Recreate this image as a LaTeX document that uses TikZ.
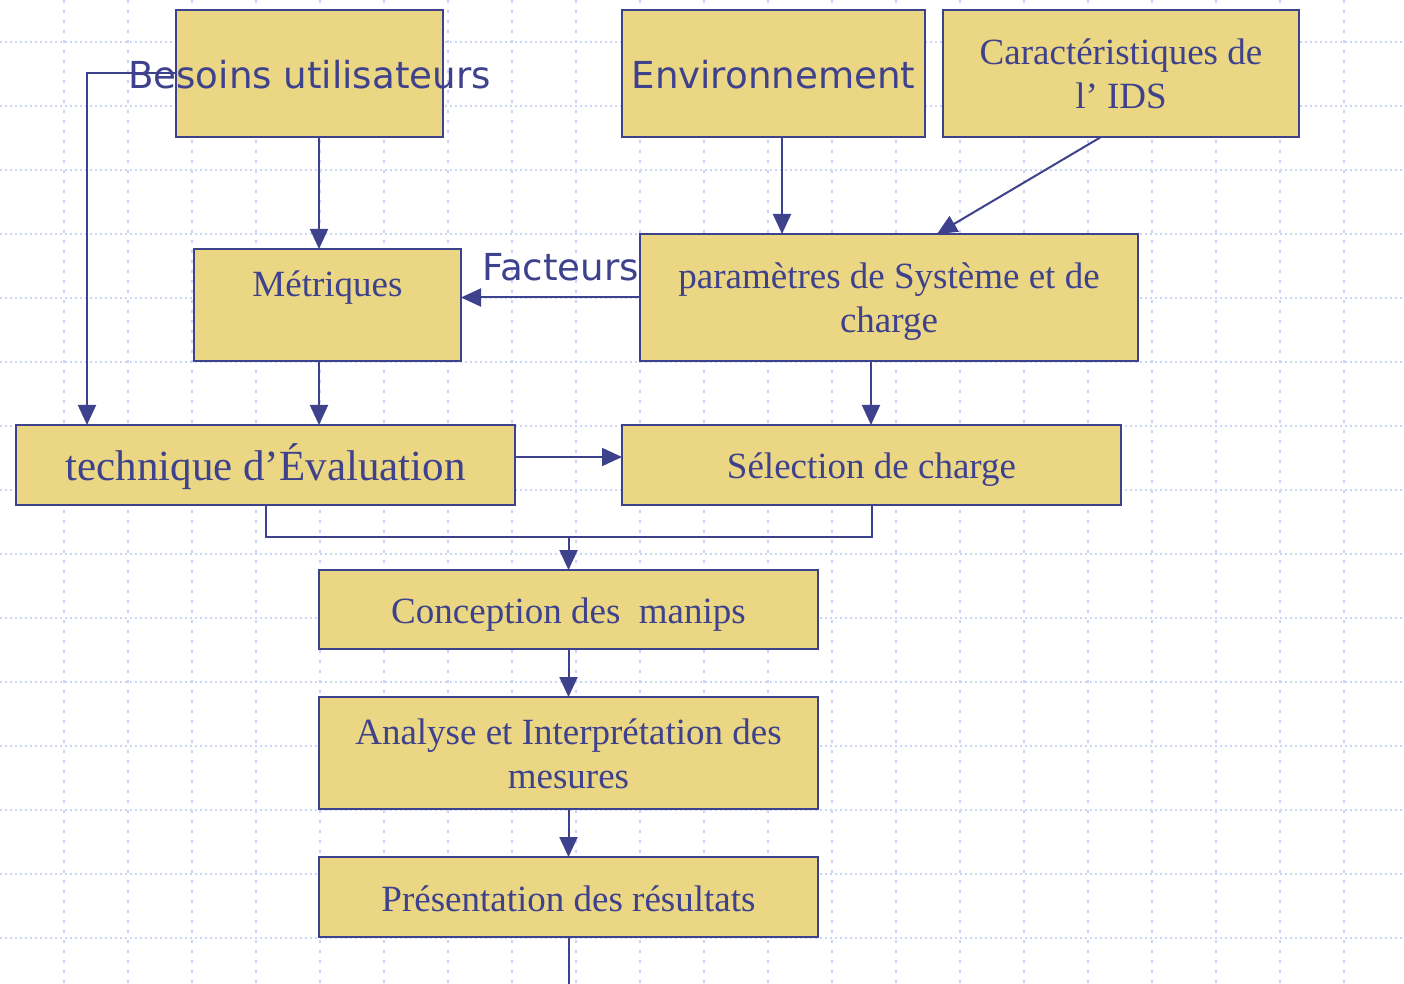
\documentclass[tikz,border=0pt]{standalone}
\usepackage{fontspec}
\setmainfont{Liberation Serif}
\newfontfamily\sansbox{DejaVu Sans}
\usepackage{tikz}
\usetikzlibrary{arrows.meta}
\definecolor{BoxFill}{HTML}{EAD683}
\definecolor{BoxLine}{HTML}{3E418C}
\definecolor{GridDot}{HTML}{C9D4F6}
\newcommand{\twolines}[1]{\raisebox{-2.2pt}[\height][\depth]{\begin{tabular}{@{}c@{}}#1\end{tabular}}}

\begin{document}
\begin{tikzpicture}[x=0.5pt,y=-0.5pt,
    stepbox/.style={draw=BoxLine, fill=BoxFill, line width=1pt, text=BoxLine, outer sep=0pt,
      inner sep=0pt, font=\fontsize{18.5}{22}\selectfont},
    oneline/.style={text height=16pt, text depth=2pt},
    sanstext/.style={font=\sansbox\fontsize{18.6}{22}\selectfont},
    flow/.style={draw=BoxLine, line width=1pt, -{Triangle[length=10pt,width=9pt]}},
    link/.style={draw=BoxLine, line width=1pt}]
  \useasboundingbox (0,0) rectangle (1404,984);
  \foreach \gy in {42,106,...,938}
    \draw[GridDot, line width=0.75pt, dash pattern=on 1pt off 1.5pt] (0,\gy) -- (1404,\gy);
  \foreach \gx in {64,128,...,1344}
    \draw[GridDot, line width=0.75pt, dash pattern=on 1.5pt off 3.5pt] (\gx,0) -- (\gx,984);

  \node[stepbox, sanstext, text height=15.5pt, text depth=0pt, minimum width=133.5pt, minimum height=63.5pt] (bes) at (309.5,73.5) {\makebox[0pt]{Besoins utilisateurs}};
  \node[stepbox, sanstext, text height=15.5pt, text depth=0pt, minimum width=151.5pt, minimum height=63.5pt] (env) at (773.5,73.5) {Environnement};
  \node[stepbox, minimum width=178pt, minimum height=63.5pt] (car) at (1121,73.5) {\twolines{Caractéristiques de\\l’ IDS}};
  \node[stepbox, minimum width=133.5pt, minimum height=56pt] (met) at (327.5,305) {\twolines{Métriques\\~}};
  \node[stepbox, minimum width=249pt, minimum height=63.5pt] (par) at (889,297.5) {\twolines{paramètres de Système et de\\charge}};
  \node[stepbox, font=\fontsize{21.5}{26}\selectfont, text height=18.5pt, text depth=3pt, minimum width=249.5pt, minimum height=40pt] (tech) at (265.5,465) {technique d’Évaluation};
  \node[stepbox, oneline, minimum width=249.5pt, minimum height=40pt] (sel) at (871.5,465) {Sélection de charge};
  \node[stepbox, oneline, minimum width=249.5pt, minimum height=39.5pt] (conc) at (568.5,609.5) {Conception des~ manips};
  \node[stepbox, minimum width=249.5pt, minimum height=56pt] (ana) at (568.5,753) {\twolines{Analyse et Interprétation des\\mesures}};
  \node[stepbox, oneline, minimum width=249.5pt, minimum height=40pt] (pres) at (568.5,897) {Présentation des résultats};

  \coordinate (join) at (568.5,537);
  \coordinate (tail) at (568.5,984);

  \draw[flow] ([xshift=4.75pt]bes.south) -- ([xshift=4.75pt]bes.south |- met.north);
  \draw[flow] (bes.west) -| ([xshift=35.5pt]tech.north west);
  \draw[flow] ([xshift=4.25pt]env.south) -- ([xshift=4.25pt]env.south |- par.north);
  \draw[flow] ([xshift=-10pt]car.south) -- ([xshift=24pt]par.north);
  \draw[flow] (par.west) -- (par.west -| met.east) node[midway, above=4.5pt, xshift=5pt, text=BoxLine, sanstext] (fac) {Facteurs};
  \draw[flow] ([xshift=-4.25pt]met.south) -- ([xshift=-4.25pt]met.south |- tech.north);
  \draw[flow] ([xshift=-9pt]par.south) -- ([xshift=-9pt]par.south |- sel.north);
  \draw[flow] ([yshift=4pt]tech.east) -- ([yshift=4pt]tech.east -| sel.west);
  \draw[link] (tech.south) |- (join) -| (sel.south);
  \draw[flow] (join) -- (conc.north);
  \draw[flow] (conc.south) -- (ana.north);
  \draw[flow] (ana.south) -- (pres.north);
  \draw[link] (pres.south) -- (tail);
\end{tikzpicture}
\end{document}
